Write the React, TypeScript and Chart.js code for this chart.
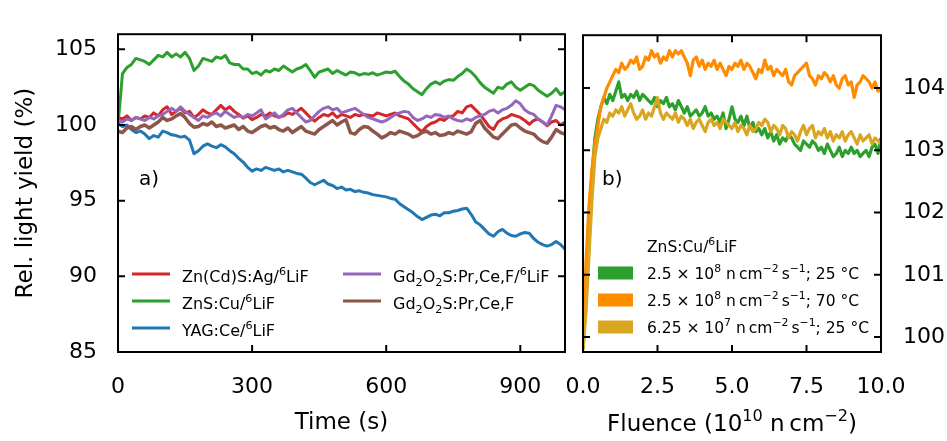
import React, { useEffect, useRef } from "react";
import { Chart, registerables } from "chart.js";
Chart.register(...registerables);

const FONT = "'DejaVu Sans', sans-serif";

// ---------- panel a) : time series ----------
const timeS = [
  0, 10, 20, 30, 40, 50, 60, 70, 80, 90, 100, 110, 120, 130, 140, 150, 160, 170, 180, 190,
  200, 210, 220, 230, 240, 250, 260, 270, 280, 290, 300, 310, 320, 330, 340, 350, 360, 370, 380, 390,
  400, 410, 420, 430, 440, 450, 460, 470, 480, 490, 500, 510, 520, 530, 540, 550, 560, 570, 580, 590,
  600, 610, 620, 630, 640, 650, 660, 670, 680, 690, 700, 710, 720, 730, 740, 750, 760, 770, 780, 790,
  800, 810, 820, 830, 840, 850, 860, 870, 880, 890, 900, 910, 920, 930, 940, 950, 960, 970, 980, 990, 1000,
];
const znCdSAg = [
  100.5, 100.4, 100.6, 100.3, 100.5, 100.4, 100.6, 100.5, 100.8, 100.6, 101.0, 101.2, 100.7, 100.9, 101.1, 100.8, 100.9, 100.5, 100.7, 101.0,
  100.8, 100.7, 101.0, 101.3, 101.0, 101.2, 100.9, 100.7, 100.45, 100.6, 100.35, 100.5, 100.7, 100.6, 100.8, 100.6, 100.5, 100.6, 100.8, 100.7,
  100.9, 101.1, 100.8, 100.5, 100.25, 100.5, 100.7, 100.6, 100.8, 100.5, 100.7, 100.6, 100.5, 100.7, 100.6, 100.7, 100.65, 100.6, 100.8, 100.7,
  100.6, 100.7, 100.8, 100.6, 100.5, 100.4, 100.1, 99.8, 99.55, 99.9, 100.1, 100.2, 100.4, 100.3, 100.55, 100.6, 100.9, 100.8, 101.2, 101.3,
  101.0, 100.7, 100.3, 99.9, 99.7, 100.2, 100.4, 100.5, 100.7, 100.6, 100.5, 100.3, 100.05, 100.3, 100.4, 100.2, 99.95, 100.2, 100.3, 100.0, 100.2,
];
const znSCu = [
  100.0, 103.4, 103.8, 104.0, 104.4, 104.3, 104.2, 104.0, 104.3, 104.6, 104.5, 104.8, 104.5, 104.7, 104.5, 104.8, 104.4, 103.6, 103.9, 104.4,
  104.3, 104.2, 104.5, 104.4, 104.6, 104.1, 104.0, 104.0, 103.7, 103.7, 103.4, 103.5, 103.3, 103.6, 103.5, 103.7, 103.6, 103.9, 103.7, 103.5,
  103.7, 103.8, 104.0, 103.6, 103.15, 103.5, 103.6, 103.7, 103.4, 103.6, 103.45, 103.3, 103.5, 103.45, 103.3, 103.4, 103.35, 103.45, 103.3, 103.4,
  103.5, 103.45, 103.55, 103.2, 102.9, 102.7, 102.4, 102.2, 102.0, 102.4, 102.7, 102.85, 102.7, 102.9, 103.0, 102.95, 103.2, 103.4, 103.7, 103.5,
  103.2, 102.8, 102.5, 102.3, 102.1, 102.5, 102.4, 102.7, 102.85, 102.5, 102.3, 102.5, 102.7, 102.6, 102.3, 102.1, 101.9, 102.1, 102.4, 102.0, 102.2,
];
const yagCe = [
  100.1, 99.9, 100.0, 99.7, 99.5, 99.6, 99.4, 99.1, 99.3, 99.2, 99.6, 99.5, 99.35, 99.3, 99.2, 99.25, 99.0, 98.1, 98.3, 98.6,
  98.75, 98.6, 98.5, 98.7, 98.55, 98.3, 98.1, 97.8, 97.55, 97.2, 96.95, 97.1, 97.0, 97.2, 97.1, 97.0, 97.1, 96.9, 97.0, 96.9,
  96.8, 96.75, 96.5, 96.2, 96.05, 96.2, 96.35, 96.1, 96.0, 95.8, 95.9, 95.7, 95.75, 95.6, 95.65, 95.55, 95.5, 95.4, 95.35, 95.3,
  95.25, 95.15, 95.1, 94.8, 94.6, 94.4, 94.2, 93.95, 93.75, 93.9, 94.05, 94.1, 94.0, 94.2, 94.2, 94.3, 94.35, 94.45, 94.5, 94.1,
  93.6, 93.4, 93.1, 92.8, 92.65, 92.95, 93.1, 92.85, 92.7, 92.65, 92.8, 92.9, 92.85, 92.5, 92.25, 92.1, 92.0, 92.1, 92.3, 92.1, 91.8,
];
const gdosLiF = [
  100.3, 100.2, 100.4, 100.3, 100.5, 100.4, 100.3, 100.5, 100.4, 100.6, 100.7, 100.9, 101.1, 100.9, 101.2, 100.9, 100.7, 100.5, 100.3, 100.6,
  100.5, 100.7, 100.8, 100.6, 100.9, 100.7, 100.5, 100.6, 100.5, 100.7, 100.6, 100.8, 101.0, 100.4, 100.6, 100.8, 100.5, 100.7, 101.0, 101.1,
  100.8, 100.5, 100.2, 100.3, 100.6, 100.9, 101.1, 101.2, 101.0, 101.1, 100.8, 100.9, 101.0, 101.1, 100.9, 100.7, 100.5, 100.4, 100.3, 100.2,
  100.3, 100.5, 100.7, 100.8, 100.9, 100.85, 100.5, 100.3, 100.4, 100.6, 100.5, 100.7, 100.65, 100.5, 100.6, 100.4, 100.3, 100.25, 100.4, 100.3,
  100.5, 100.6, 100.7, 100.9, 101.0, 100.8, 101.0, 101.1, 101.3, 101.6, 101.4, 101.0, 100.8, 100.7, 100.4, 100.2, 100.0, 100.6, 101.3, 101.2, 101.0,
];
const gdos = [
  99.6, 99.5, 99.8, 99.9, 99.7, 99.9, 100.0, 99.8, 100.0, 100.2, 100.5, 100.3, 100.4, 100.6, 100.75, 100.5, 100.1, 99.85, 99.9, 100.1,
  100.0, 100.2, 99.9, 100.0, 99.8, 99.9, 100.0, 99.7, 99.9, 99.6, 99.5, 99.7, 99.9, 100.0, 99.8, 99.9, 99.7, 99.6, 99.8, 99.5,
  99.7, 99.9, 99.6, 99.5, 99.4, 99.7, 99.9, 100.1, 100.3, 100.0, 100.2, 100.35, 99.5, 99.4, 99.7, 99.9, 99.85, 99.6, 99.4, 99.15,
  99.3, 99.5, 99.4, 99.6, 99.5, 99.4, 99.2, 99.3, 99.5, 99.6, 99.4, 99.5, 99.3, 99.35, 99.5, 99.4, 99.6, 99.5, 99.4, 99.55,
  100.1, 100.3, 99.8, 99.5, 99.2, 99.1, 99.4, 99.7, 100.0, 100.05, 99.8, 99.6, 99.5, 99.4, 99.1, 98.9, 98.8, 99.2, 99.7, 99.5, 99.4,
];
const timeTicks = [0, 300, 600, 900];
const yieldTicksA = [85, 90, 95, 100, 105];

// ---------- panel b) : fluence series ----------
const fluence = [
  0.0, 0.1, 0.2, 0.3, 0.4, 0.5, 0.6, 0.7, 0.8, 0.9, 1.0, 1.1, 1.2, 1.3, 1.4, 1.5, 1.6, 1.7, 1.8, 1.9,
  2.0, 2.1, 2.2, 2.3, 2.4, 2.5, 2.6, 2.7, 2.8, 2.9, 3.0, 3.1, 3.2, 3.3, 3.4, 3.5, 3.6, 3.7, 3.8, 3.9,
  4.0, 4.1, 4.2, 4.3, 4.4, 4.5, 4.6, 4.7, 4.8, 4.9, 5.0, 5.1, 5.2, 5.3, 5.4, 5.5, 5.6, 5.7, 5.8, 5.9,
  6.0, 6.1, 6.2, 6.3, 6.4, 6.5, 6.6, 6.7, 6.8, 6.9, 7.0, 7.1, 7.2, 7.3, 7.4, 7.5, 7.6, 7.7, 7.8, 7.9,
  8.0, 8.1, 8.2, 8.3, 8.4, 8.5, 8.6, 8.7, 8.8, 8.9, 9.0, 9.1, 9.2, 9.3, 9.4, 9.5, 9.6, 9.7, 9.8, 9.9, 10.0,
];
const flux25 = [
  99.8, 100.6, 101.5, 102.6, 103.2, 103.5, 103.7, 103.85, 103.75, 103.9, 103.8, 103.95, 104.1, 103.85, 103.9, 103.8, 103.9, 103.85, 103.95, 103.8,
  103.9, 103.85, 103.8, 103.75, 103.85, 103.7, 103.8, 103.75, 103.85, 103.7, 103.75, 103.65, 103.8, 103.7, 103.6, 103.7, 103.55, 103.6, 103.65, 103.55,
  103.6, 103.7, 103.55, 103.6, 103.5, 103.55, 103.45, 103.6, 103.35, 103.5, 103.7, 103.5, 103.45, 103.55, 103.4, 103.55, 103.35, 103.45, 103.3, 103.35,
  103.25, 103.35, 103.2, 103.3, 103.15, 103.25, 103.1, 103.2, 103.15, 103.25, 103.2, 103.1, 103.05, 103.0, 103.15, 103.1, 103.05, 103.15, 103.1, 103.0,
  103.05, 102.95, 103.1, 103.0, 102.9, 102.95, 103.05, 102.9, 103.0, 102.95, 103.05, 102.95, 103.0, 102.9, 102.95, 103.0, 102.9, 103.05, 103.1, 102.95, 103.2,
];
const flux70 = [
  99.9, 101.2, 102.1, 102.7, 103.1, 103.4, 103.7, 103.85, 104.0, 104.1, 104.2, 104.3, 104.25, 104.4, 104.3, 104.35, 104.45, 104.4, 104.5, 104.3,
  104.35, 104.5, 104.45, 104.6, 104.5, 104.55, 104.4, 104.5, 104.45, 104.6, 104.5, 104.6, 104.55, 104.6, 104.5, 104.4, 104.2, 104.45, 104.5, 104.35,
  104.45, 104.3, 104.4, 104.35, 104.45, 104.3, 104.4, 104.3, 104.2, 104.35, 104.3, 104.4, 104.35, 104.45, 104.3, 104.4, 104.35, 104.25, 104.15, 104.3,
  104.25, 104.45, 104.3, 104.35, 104.2, 104.3, 104.25, 104.2, 104.3, 104.1, 104.05, 104.2, 104.25, 104.3, 104.35, 104.4, 104.2, 104.15, 104.05, 104.2,
  104.15, 104.25, 104.2, 104.1, 104.2, 104.05, 104.0, 104.15, 104.2, 104.05, 104.1, 103.85, 104.05, 104.1, 104.2, 104.15, 104.1, 104.0, 104.1, 103.95, 104.0,
];
const fluxLow25 = [
  99.8, 100.4, 101.3, 102.2, 102.9, 103.2, 103.35, 103.5, 103.45, 103.6, 103.55, 103.65, 103.6, 103.7, 103.55, 103.65, 103.75, 103.6, 103.5, 103.55,
  103.65, 103.5, 103.6, 103.55, 103.7, 103.85, 103.6, 103.5, 103.6, 103.55, 103.5, 103.6, 103.45, 103.55, 103.5, 103.4, 103.5, 103.35, 103.45, 103.5,
  103.4, 103.3, 103.45, 103.5, 103.4, 103.45, 103.35, 103.5, 103.45, 103.4, 103.35, 103.45, 103.3, 103.4, 103.35, 103.25, 103.4, 103.3, 103.35, 103.45,
  103.4, 103.5, 103.45, 103.3, 103.4, 103.35, 103.25, 103.4, 103.35, 103.2, 103.3, 103.25, 103.15, 103.3, 103.4, 103.25, 103.35, 103.4, 103.2, 103.3,
  103.25, 103.35, 103.2, 103.3, 103.15, 103.25, 103.2, 103.3, 103.15, 103.25, 103.3, 103.2, 103.1, 103.25, 103.15, 103.2, 103.25, 103.1, 103.2, 103.15, 103.1,
];
const fluenceTicks = [0, 2.5, 5, 7.5, 10];
const yieldTicksB = [100, 101, 102, 103, 104];

// ---------- labels (rich text segments) ----------
type Seg = { t: string; k?: "sup" | "sub" };
const legendA: Seg[][] = [
  [{ t: "Zn(Cd)S:Ag/" }, { t: "6", k: "sup" }, { t: "LiF" }],
  [{ t: "ZnS:Cu/" }, { t: "6", k: "sup" }, { t: "LiF" }],
  [{ t: "YAG:Ce/" }, { t: "6", k: "sup" }, { t: "LiF" }],
  [{ t: "Gd" }, { t: "2", k: "sub" }, { t: "O" }, { t: "2", k: "sub" }, { t: "S:Pr,Ce,F/" }, { t: "6", k: "sup" }, { t: "LiF" }],
  [{ t: "Gd" }, { t: "2", k: "sub" }, { t: "O" }, { t: "2", k: "sub" }, { t: "S:Pr,Ce,F" }],
];
const legendBTitle: Seg[] = [{ t: "ZnS:Cu/" }, { t: "6", k: "sup" }, { t: "LiF" }];
const legendB: Seg[][] = [
  [{ t: "2.5 × 10" }, { t: "8", k: "sup" }, { t: " n\u2009cm" }, { t: "−2", k: "sup" }, { t: "\u2009s" }, { t: "−1", k: "sup" }, { t: "; 25 °C" }],
  [{ t: "2.5 × 10" }, { t: "8", k: "sup" }, { t: " n\u2009cm" }, { t: "−2", k: "sup" }, { t: "\u2009s" }, { t: "−1", k: "sup" }, { t: "; 70 °C" }],
  [{ t: "6.25 × 10" }, { t: "7", k: "sup" }, { t: " n\u2009cm" }, { t: "−2", k: "sup" }, { t: "\u2009s" }, { t: "−1", k: "sup" }, { t: "; 25 °C" }],
];
const fluenceTitle: Seg[] = [{ t: "Fluence (10" }, { t: "10", k: "sup" }, { t: " n\u2009cm" }, { t: "−2", k: "sup" }, { t: ")" }];

const RED = "#d62728", GREEN = "#2ca02c", BLUE = "#1f77b4", PURPLE = "#9467bd", BROWN = "#8c564b";
const ORANGE = "#ff8c00", GOLD = "#daa520";

function drawRich(ctx: CanvasRenderingContext2D, x: number, y: number, segs: Seg[], size: number, measureOnly = false) {
  ctx.textBaseline = "alphabetic";
  ctx.textAlign = "left";
  let cx = x;
  for (const s of segs) {
    const fs = s.k ? size * 0.7 : size;
    ctx.font = `${fs}px ${FONT}`;
    const dy = s.k === "sup" ? -size * 0.42 : s.k === "sub" ? size * 0.22 : 0;
    if (!measureOnly) ctx.fillText(s.t, cx, y + dy);
    cx += ctx.measureText(s.t).width;
  }
  return cx - x;
}

function drawFrame(chart: any, xTicks: number[], yTicks: number[]) {
  const { ctx, chartArea: a, scales } = chart;
  ctx.save();
  ctx.strokeStyle = "#000";
  ctx.lineWidth = 2;
  const L = 7;
  ctx.beginPath();
  for (const v of xTicks) {
    const px = scales.x.getPixelForValue(v);
    if (px <= a.left + 1 || px >= a.right - 1) continue;
    ctx.moveTo(px, a.bottom); ctx.lineTo(px, a.bottom - L);
    ctx.moveTo(px, a.top); ctx.lineTo(px, a.top + L);
  }
  for (const v of yTicks) {
    const py = scales.y.getPixelForValue(v);
    if (py <= a.top + 1 || py >= a.bottom - 1) continue;
    ctx.moveTo(a.left, py); ctx.lineTo(a.left + L, py);
    ctx.moveTo(a.right, py); ctx.lineTo(a.right - L, py);
  }
  ctx.stroke();
  ctx.strokeRect(a.left, a.top, a.right - a.left, a.bottom - a.top);
  ctx.restore();
}

const tickFont = { family: FONT, size: 22 };
const line = (label: string, xs: number[], ys: number[], color: string, w = 3) => ({
  label,
  data: xs.map((x, i) => ({ x, y: ys[i] })),
  borderColor: color,
  backgroundColor: color,
  borderWidth: w,
  pointRadius: 0,
  tension: 0,
  borderJoinStyle: "round" as const,
});

export default function App() {
  const refA = useRef<HTMLCanvasElement>(null);
  const refB = useRef<HTMLCanvasElement>(null);

  useEffect(() => {
    const decorA = {
      id: "decorA",
      afterDraw(chart: any) {
        drawFrame(chart, timeTicks, yieldTicksA);
        const ctx = chart.ctx as CanvasRenderingContext2D;
        ctx.save();
        ctx.fillStyle = "#000";
        ctx.font = `20px ${FONT}`;
        ctx.textBaseline = "alphabetic";
        ctx.fillText("a)", 139, 185);
        const colors = [RED, GREEN, BLUE, PURPLE, BROWN];
        const pos = [
          [132, 274], [132, 301], [132, 328], [343, 274], [343, 301],
        ];
        legendA.forEach((segs, i) => {
          const [x, y] = pos[i];
          ctx.strokeStyle = colors[i];
          ctx.lineWidth = 3;
          ctx.beginPath(); ctx.moveTo(x, y); ctx.lineTo(x + 38, y); ctx.stroke();
          ctx.fillStyle = "#000";
          drawRich(ctx, x + 50, y + 8, segs, 16);
        });
        ctx.restore();
      },
    };
    const decorB = {
      id: "decorB",
      afterDraw(chart: any) {
        drawFrame(chart, fluenceTicks, yieldTicksB);
        const ctx = chart.ctx as CanvasRenderingContext2D;
        const a = chart.chartArea;
        ctx.save();
        ctx.fillStyle = "#000";
        ctx.font = `20px ${FONT}`;
        ctx.textBaseline = "alphabetic";
        ctx.fillText("b)", 602, 185);
        drawRich(ctx, 647, 252, legendBTitle, 15.5);
        const colors = [GREEN, ORANGE, GOLD];
        const ys = [273, 300, 327];
        legendB.forEach((segs, i) => {
          ctx.fillStyle = colors[i];
          ctx.fillRect(598, ys[i] - 6.5, 35, 13);
          ctx.fillStyle = "#000";
          drawRich(ctx, 647, ys[i] + 6, segs, 15.5);
        });
        const w = drawRich(ctx, 0, 0, fluenceTitle, 23, true);
        drawRich(ctx, (a.left + a.right) / 2 - w / 2, 431, fluenceTitle, 23);
        ctx.restore();
      },
    };

    const chartA = new Chart(refA.current!, {
      type: "line",
      data: {
        datasets: [
          line("Gd2O2S:Pr,Ce,F", timeS, gdos, BROWN, 3.5),
          line("Gd2O2S:Pr,Ce,F/6LiF", timeS, gdosLiF, PURPLE),
          line("YAG:Ce/6LiF", timeS, yagCe, BLUE),
          line("ZnS:Cu/6LiF", timeS, znSCu, GREEN),
          line("Zn(Cd)S:Ag/6LiF", timeS, znCdSAg, RED),
        ],
      },
      options: {
        responsive: false,
        animation: false,
        devicePixelRatio: 1,
        layout: { padding: { left: 0, right: 382, top: 12, bottom: 0 } },
        plugins: { legend: { display: false }, tooltip: { enabled: false } },
        scales: {
          x: {
            type: "linear",
            min: 0,
            max: 1000,
            afterBuildTicks: (s: any) => { s.ticks = timeTicks.map((v) => ({ value: v })); },
            afterFit: (s: any) => { s.height = 89; },
            grid: { display: false, drawTicks: false },
            border: { display: false },
            ticks: { font: tickFont, color: "#000", padding: 22, maxRotation: 0, autoSkip: false },
            title: { display: true, text: "Time (s)", font: { family: FONT, size: 23 }, color: "#000", padding: { top: 0, bottom: 4 } },
          },
          y: {
            type: "linear",
            min: 85,
            max: 106,
            afterBuildTicks: (s: any) => { s.ticks = yieldTicksA.map((v) => ({ value: v })); },
            afterFit: (s: any) => { s.width = 118; },
            grid: { display: false, drawTicks: false },
            border: { display: false },
            ticks: { font: tickFont, color: "#000", padding: 21, autoSkip: false },
            title: { display: true, text: "Rel. light yield (%)", font: { family: FONT, size: 23 }, color: "#000", padding: { top: 12, bottom: 0 } },
          },
        },
      },
      plugins: [decorA],
    } as any);

    const chartB = new Chart(refB.current!, {
      type: "line",
      data: {
        datasets: [
          line("6.25e7; 25 C", fluence, fluxLow25, GOLD, 3.2),
          line("2.5e8; 70 C", fluence, flux70, ORANGE, 3.2),
          line("2.5e8; 25 C", fluence, flux25, GREEN, 3.2),
        ],
      },
      options: {
        responsive: false,
        animation: false,
        devicePixelRatio: 1,
        layout: { padding: { left: 583, right: 0, top: 12, bottom: 0 } },
        plugins: { legend: { display: false }, tooltip: { enabled: false } },
        scales: {
          x: {
            type: "linear",
            min: 0,
            max: 10,
            afterBuildTicks: (s: any) => { s.ticks = fluenceTicks.map((v) => ({ value: v })); },
            afterFit: (s: any) => { s.height = 89; },
            grid: { display: false, drawTicks: false },
            border: { display: false },
            ticks: { font: tickFont, color: "#000", padding: 22, maxRotation: 0, autoSkip: false, callback: (v: any) => Number(v).toFixed(1) },
          },
          y: {
            type: "linear",
            position: "right",
            min: 99.76,
            max: 104.85,
            afterBuildTicks: (s: any) => { s.ticks = yieldTicksB.map((v) => ({ value: v })); },
            afterFit: (s: any) => { s.width = 66; },
            grid: { display: false, drawTicks: false },
            border: { display: false },
            ticks: { font: tickFont, color: "#000", padding: 22, autoSkip: false },
          },
        },
      },
      plugins: [decorB],
    } as any);

    return () => { chartA.destroy(); chartB.destroy(); };
  }, []);

  const cs: React.CSSProperties = { position: "absolute", left: 0, top: 0, width: 947, height: 441 };
  return (
    <div style={{ position: "fixed", left: 0, top: 0, width: 947, height: 441, background: "#fff" }}>
      <canvas ref={refA} width={947} height={441} style={cs} />
      <canvas ref={refB} width={947} height={441} style={cs} />
    </div>
  );
}
